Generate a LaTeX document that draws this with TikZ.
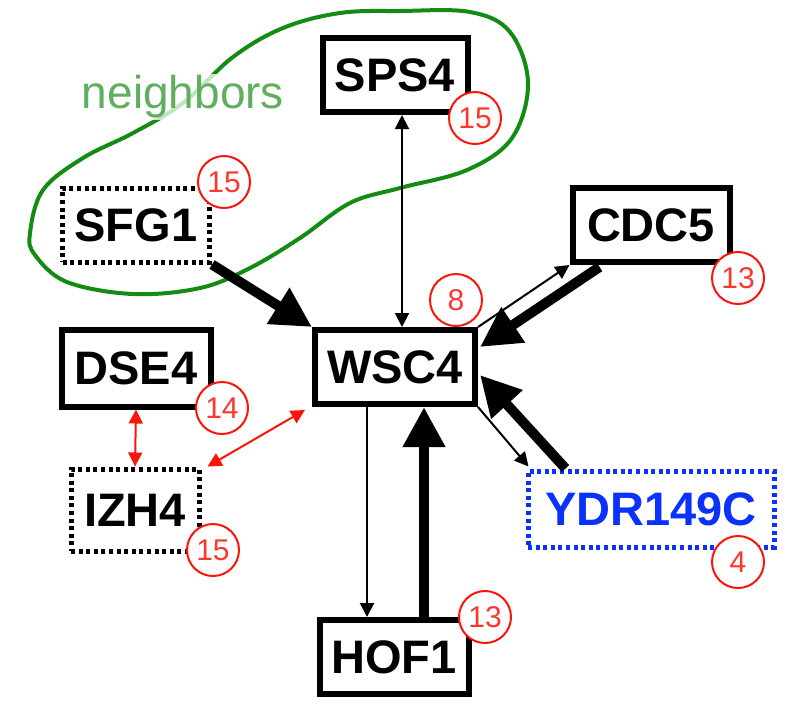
\documentclass[tikz,border=0pt]{standalone}
\usepackage{fontspec}
\setmainfont{Liberation Sans}
\usetikzlibrary{arrows.meta,calc}
\definecolor{hoodgreen}{RGB}{20,140,20}
\definecolor{labelgreen}{RGB}{95,175,95}
\definecolor{ydrblue}{RGB}{10,50,250}
\definecolor{badgered}{RGB}{250,20,10}

\tikzset{
  gene/.style={draw, line width=3pt, fill=white, minimum height=37pt, inner sep=0pt,
    font=\fontsize{23.5}{26}\selectfont\bfseries},
  dotgene/.style={gene, line width=2.5pt, dash pattern=on 2pt off 1.8pt},
  badge/.style={circle, draw=badgered, fill=white, line width=1pt, minimum size=26pt,
    inner sep=0pt, text=badgered!85, font=\fontsize{15}{15}\selectfont},
  act/.style={line width=1pt, -{Triangle[length=7pt,width=7pt]}},
  strong/.style={line width=5pt, -{Triangle[length=20pt,width=20pt]}},
  pair/.style={badgered, line width=1pt, {Triangle[length=7pt,width=7pt]}-{Triangle[length=7pt,width=7pt]}}
}

\begin{document}
\begin{tikzpicture}[x=0.5pt,y=-0.5pt]
  \useasboundingbox (0,0) rectangle (796,703);

  % neighbourhood outline
  \draw[hoodgreen, line width=2pt] plot[smooth cycle, tension=0.6] coordinates {
    (30,233) (43,190) (83,158) (133,133) (183,103) (233,57) (283,28) (340,13)
    (400,11) (470,12) (510,32) (528,83) (512,138) (467,170) (400,188) (350,203)
    (300,238) (250,268) (200,288) (133,294) (67,282) (35,255)};
  \node[text=labelgreen, fill=white, fill opacity=0.75, text opacity=1, inner sep=1pt,
    font=\fontsize{23}{26}\selectfont] (hood) at (183,97) {neighbors};

  % genes
  \node[dotgene, minimum width=73.5pt] (sfg1) at (136,225) {SFG1};
  \node[gene, minimum width=72.5pt] (sps4) at (395,75) {SPS4};
  \node[gene, minimum width=78.5pt] (cdc5) at (651,225) {CDC5};
  \node[gene, minimum width=80pt] (wsc4) at (395,367) {WSC4};
  \node[gene, minimum width=74.5pt, minimum height=38.5pt] (dse4) at (136,368) {DSE4};
  \node[dotgene, minimum width=64pt, minimum height=41pt] (izh4) at (135,510) {IZH4};
  \node[gene, minimum width=74.5pt] (hof1) at (394,657) {HOF1};
  \node[dotgene, draw=ydrblue, text=ydrblue, minimum width=123pt, minimum height=38pt]
    (ydr) at (651,509) {YDR149C};

  % interactions
  \draw[line width=1pt, {Triangle[length=7pt,width=7pt]}-{Triangle[length=7pt,width=7pt]}]
    ($(sps4.south)+(7,0)$) -- ($(wsc4.north)+(7,0)$);
  \draw[strong] (sfg1.south east) -- (wsc4.north west);
  \draw[act] (wsc4.north east) -- (cdc5.south west);
  \draw[strong] ($(cdc5.south west)+(30,2)$) -- ($(wsc4.east)+(2,-20)$);
  \draw[strong] ($(ydr.north west)+(40,0)$) -- ($(wsc4.east)+(2,8)$);
  \draw[act] (wsc4.south east) -- ($(ydr.north west)+(3,-2)$);
  \draw[act] ($(wsc4.south)+(-28,0)$) -- ($(hof1.north)+(-27,0)$);
  \draw[strong] ($(hof1.north)+(30,0)$) -- ($(wsc4.south)+(29,0)$);
  \draw[pair] (dse4.south) -- (izh4.north);
  \draw[pair] ($(izh4.north east)+(6,0)$) -- ($(wsc4.south west)+(-7,3)$);

  % badges
  \node[badge] (nsfg1) at (224,182) {15};
  \node[badge] (nsps4) at (475,118) {15};
  \node[badge] (ncdc5) at (738,278) {13};
  \node[badge] (nwsc4) at (456,300) {8};
  \node[badge] (ndse4) at (222,408) {14};
  \node[badge] (nizh4) at (213,550) {15};
  \node[badge] (nhof1) at (485,617) {13};
  \node[badge] (nydr) at (738,562) {4};
\end{tikzpicture}
\end{document}
